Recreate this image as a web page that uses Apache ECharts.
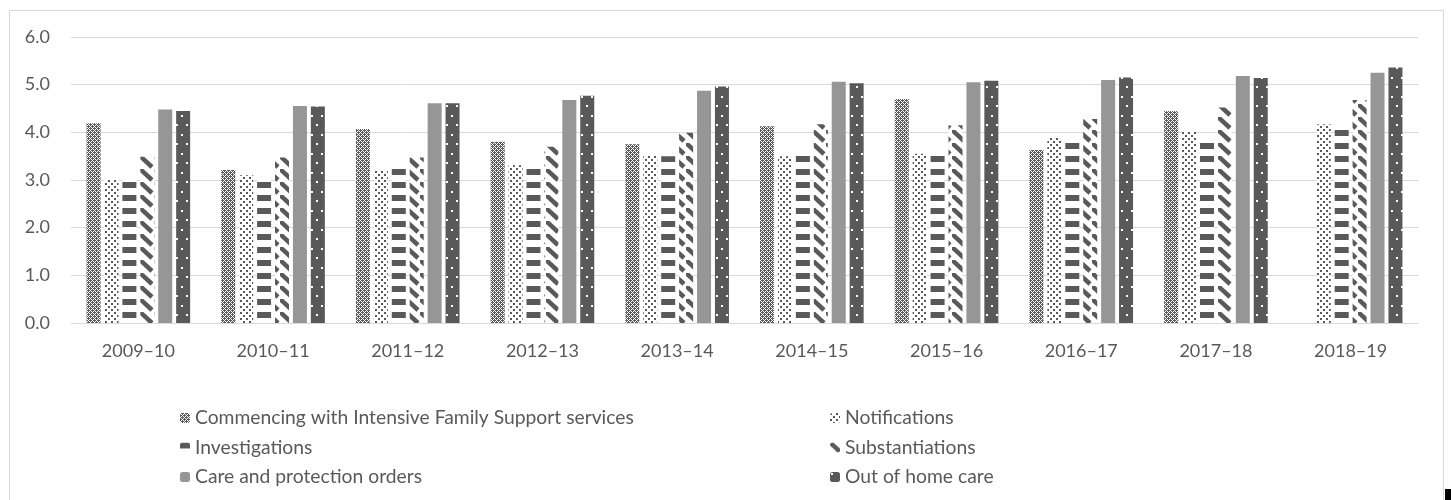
<!DOCTYPE html>
<html>
<head>
<meta charset="utf-8">
<script src="https://cdn.jsdelivr.net/npm/echarts@6/dist/echarts.min.js"></script>
<style>
html,body{margin:0;padding:0;background:#fff;}
#chart{width:1451px;height:500px;}
</style>
</head>
<body>
<div id="chart"></div>
<script>
var categories = ['2009–10','2010–11','2011–12','2012–13','2013–14','2014–15','2015–16','2016–17','2017–18','2018–19'];
var yTicks = [0, 1, 2, 3, 4, 5, 6];
var seriesNames = ['Commencing with Intensive Family Support services','Notifications','Investigations','Substantiations','Care and protection orders','Out of home care'];
var commencing = [4.19, 3.21, 4.07, 3.80, 3.75, 4.13, 4.70, 3.63, 4.45, null];
var notifications = [3.00, 3.10, 3.21, 3.31, 3.52, 3.50, 3.55, 3.89, 4.01, 4.17];
var investigations = [3.00, 3.02, 3.23, 3.30, 3.50, 3.56, 3.57, 3.84, 3.84, 4.10];
var substantiations = [3.49, 3.47, 3.47, 3.70, 3.99, 4.17, 4.15, 4.28, 4.52, 4.68];
var careOrders = [4.48, 4.55, 4.61, 4.68, 4.87, 5.06, 5.05, 5.10, 5.18, 5.25];
var outOfHomeCare = [4.45, 4.54, 4.61, 4.77, 4.96, 5.03, 5.08, 5.15, 5.14, 5.36];

var DARK = '#595959';
function tile(w, h, draw) {
  var c = document.createElement('canvas');
  c.width = w; c.height = h;
  var ctx = c.getContext('2d');
  draw(ctx, w, h);
  return {image: c, repeat: 'repeat'};
}
var patChecker = tile(4, 4, function (ctx) {
  ctx.fillStyle = DARK; ctx.fillRect(0, 0, 4, 4);
  ctx.fillStyle = '#ffffff';
  [[0,0],[1,3],[2,2],[3,1],[1,1],[3,3]].forEach(function (p) { ctx.fillRect(p[0], p[1], 1, 1); });
});
var patDots = tile(6, 6, function (ctx) {
  ctx.fillStyle = '#ffffff'; ctx.fillRect(0, 0, 6, 6);
  ctx.fillStyle = DARK;
  ctx.fillRect(0, 0, 2, 2); ctx.fillRect(3, 3, 2, 2);
});
var patHoriz = tile(14, 13, function (ctx) {
  ctx.fillStyle = '#ffffff'; ctx.fillRect(0, 0, 14, 13);
  ctx.fillStyle = DARK; ctx.fillRect(0, 0, 14, 6);
});
var patDiag = tile(14, 13, function (ctx) {
  ctx.fillStyle = '#ffffff'; ctx.fillRect(0, 0, 14, 13);
  ctx.strokeStyle = DARK; ctx.lineWidth = 4.5; ctx.lineCap = 'butt';
  ctx.beginPath(); ctx.moveTo(0, 0); ctx.lineTo(12, 11); ctx.stroke();
});
var patDarkDots = tile(10, 19, function (ctx) {
  ctx.fillStyle = DARK; ctx.fillRect(0, 0, 10, 19);
  ctx.fillStyle = '#ffffff';
  ctx.fillRect(1, 1, 2, 2); ctx.fillRect(6, 10, 2, 2);
});

var dataArrays = [commencing, notifications, investigations, substantiations, careOrders, outOfHomeCare];
var fills = [patChecker, patDots, patHoriz, patDiag, '#969696', patDarkDots];

var series = seriesNames.map(function (name, i) {
  return {
    name: name,
    type: 'bar',
    data: dataArrays[i],
    barWidth: 14,
    barGap: '28%',
    itemStyle: {color: fills[i]},
    emphasis: {disabled: true}
  };
});

var chart = echarts.init(document.getElementById('chart'), null, {renderer: 'canvas'});
var FONT = 'Lato';
var legendText = {color: DARK, fontSize: 19.3, fontFamily: FONT, lineHeight: 20};
chart.setOption({
  animation: false,
  backgroundColor: '#ffffff',
  textStyle: {fontFamily: FONT},
  grid: {left: 71, right: 33, top: 37, bottom: 177, containLabel: false},
  xAxis: {
    type: 'category',
    data: categories,
    axisLine: {lineStyle: {color: '#d9d9d9', width: 1}},
    axisTick: {show: false},
    axisLabel: {color: DARK, fontSize: 18, fontFamily: FONT, margin: 19}
  },
  yAxis: {
    type: 'value',
    min: yTicks[0],
    max: yTicks[yTicks.length - 1],
    interval: 1,
    axisLine: {show: false},
    axisTick: {show: false},
    splitLine: {lineStyle: {color: '#d9d9d9', width: 1}},
    axisLabel: {color: DARK, fontSize: 18, fontFamily: FONT, margin: 21,
      formatter: function (v) { return v.toFixed(1); }}
  },
  legend: [
    {
      data: [seriesNames[0], seriesNames[2], seriesNames[4]],
      orient: 'vertical', left: 180, top: 408, padding: 0,
      itemWidth: 10, itemHeight: 10, itemGap: 9.5, selectedMode: false,
      textStyle: legendText
    },
    {
      data: [seriesNames[1], seriesNames[3], seriesNames[5]],
      orient: 'vertical', left: 830, top: 408, padding: 0,
      itemWidth: 10, itemHeight: 10, itemGap: 9.5, selectedMode: false,
      textStyle: legendText
    }
  ],
  graphic: [
    {type: 'rect', shape: {x: 9.5, y: 10.5, width: 1434, height: 600},
      style: {fill: 'none', stroke: '#d9d9d9', lineWidth: 1}, silent: true, z: -1},
    {type: 'rect', shape: {x: 1445, y: 489, width: 6, height: 11},
      style: {fill: '#000000'}, silent: true}
  ],
  series: series
});
</script>
</body>
</html>
